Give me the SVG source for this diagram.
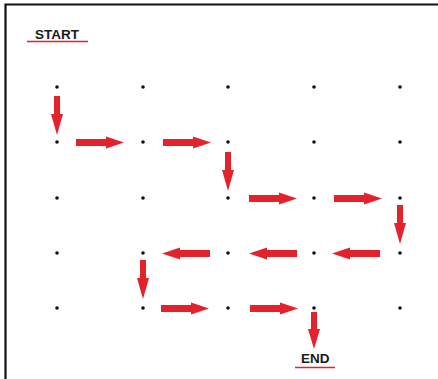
<svg xmlns="http://www.w3.org/2000/svg" xmlns:xlink="http://www.w3.org/1999/xlink" width="438" height="379" viewBox="0 0 438 379">
<style>
.dot{fill:#111}
.arr{fill:#e3222b}
.lbl{font-family:"Liberation Sans",Arial,sans-serif;font-weight:bold;font-size:13.5px;fill:#1a1a1a}
.ul{stroke:#e3222b;stroke-width:1.6}
.frame{stroke:#111;stroke-width:2.2;fill:none}
</style>
<defs>
<path id="ah" d="M0,-3.5 L30,-3.5 L30,-6 L48,0 L30,6 L30,3.5 L0,3.5 Z"/>
<path id="av" d="M-3,0 L-3,18 L-6,18 L0,39 L6,18 L3,18 L3,0 Z"/>
</defs>
<rect width="438" height="379" fill="#fff"/>
<path class="frame" d="M5.5,379 L5.5,4.5 L438,4.5"/>
<g id="start"><text class="lbl" x="35" y="39">START</text><line class="ul" x1="27" y1="41.5" x2="88" y2="41.5"/></g>
<g id="end"><text class="lbl" x="301" y="363">END</text><line class="ul" x1="295" y1="367.5" x2="335" y2="367.5"/></g>
<g id="n-r1c1"><circle class="dot" cx="57" cy="87" r="1.8"/></g>
<g id="n-r1c2"><circle class="dot" cx="143" cy="87" r="1.8"/></g>
<g id="n-r1c3"><circle class="dot" cx="228" cy="87" r="1.8"/></g>
<g id="n-r1c4"><circle class="dot" cx="314" cy="87" r="1.8"/></g>
<g id="n-r1c5"><circle class="dot" cx="400" cy="87" r="1.8"/></g>
<g id="n-r2c1"><circle class="dot" cx="57" cy="142" r="1.8"/></g>
<g id="n-r2c2"><circle class="dot" cx="143" cy="142" r="1.8"/></g>
<g id="n-r2c3"><circle class="dot" cx="228" cy="142" r="1.8"/></g>
<g id="n-r2c4"><circle class="dot" cx="314" cy="142" r="1.8"/></g>
<g id="n-r2c5"><circle class="dot" cx="400" cy="142" r="1.8"/></g>
<g id="n-r3c1"><circle class="dot" cx="57" cy="198" r="1.8"/></g>
<g id="n-r3c2"><circle class="dot" cx="143" cy="198" r="1.8"/></g>
<g id="n-r3c3"><circle class="dot" cx="228" cy="198" r="1.8"/></g>
<g id="n-r3c4"><circle class="dot" cx="314" cy="198" r="1.8"/></g>
<g id="n-r3c5"><circle class="dot" cx="400" cy="198" r="1.8"/></g>
<g id="n-r4c1"><circle class="dot" cx="57" cy="253" r="1.8"/></g>
<g id="n-r4c2"><circle class="dot" cx="143" cy="253" r="1.8"/></g>
<g id="n-r4c3"><circle class="dot" cx="228" cy="253" r="1.8"/></g>
<g id="n-r4c4"><circle class="dot" cx="314" cy="253" r="1.8"/></g>
<g id="n-r4c5"><circle class="dot" cx="400" cy="253" r="1.8"/></g>
<g id="n-r5c1"><circle class="dot" cx="57" cy="308" r="1.8"/></g>
<g id="n-r5c2"><circle class="dot" cx="143" cy="308" r="1.8"/></g>
<g id="n-r5c3"><circle class="dot" cx="228" cy="308" r="1.8"/></g>
<g id="n-r5c4"><circle class="dot" cx="314" cy="308" r="1.8"/></g>
<g id="n-r5c5"><circle class="dot" cx="400" cy="308" r="1.8"/></g>
<g id="connectors" class="arr">
<use xlink:href="#av" transform="translate(57,96)"/>
<use xlink:href="#ah" transform="translate(76,142.5)"/>
<use xlink:href="#ah" transform="translate(163,142.5)"/>
<use xlink:href="#av" transform="translate(228,152)"/>
<use xlink:href="#ah" transform="translate(249,198.5)"/>
<use xlink:href="#ah" transform="translate(334,198.5)"/>
<use xlink:href="#av" transform="translate(400,205)"/>
<use xlink:href="#ah" transform="translate(380,253.5) rotate(180)"/>
<use xlink:href="#ah" transform="translate(297,253.5) rotate(180)"/>
<use xlink:href="#ah" transform="translate(210,253.5) rotate(180)"/>
<use xlink:href="#av" transform="translate(143,260)"/>
<use xlink:href="#ah" transform="translate(161,308.5)"/>
<use xlink:href="#ah" transform="translate(250,308.5)"/>
<use xlink:href="#av" transform="translate(314,312) scale(1,0.95)"/>
</g>
</svg>
